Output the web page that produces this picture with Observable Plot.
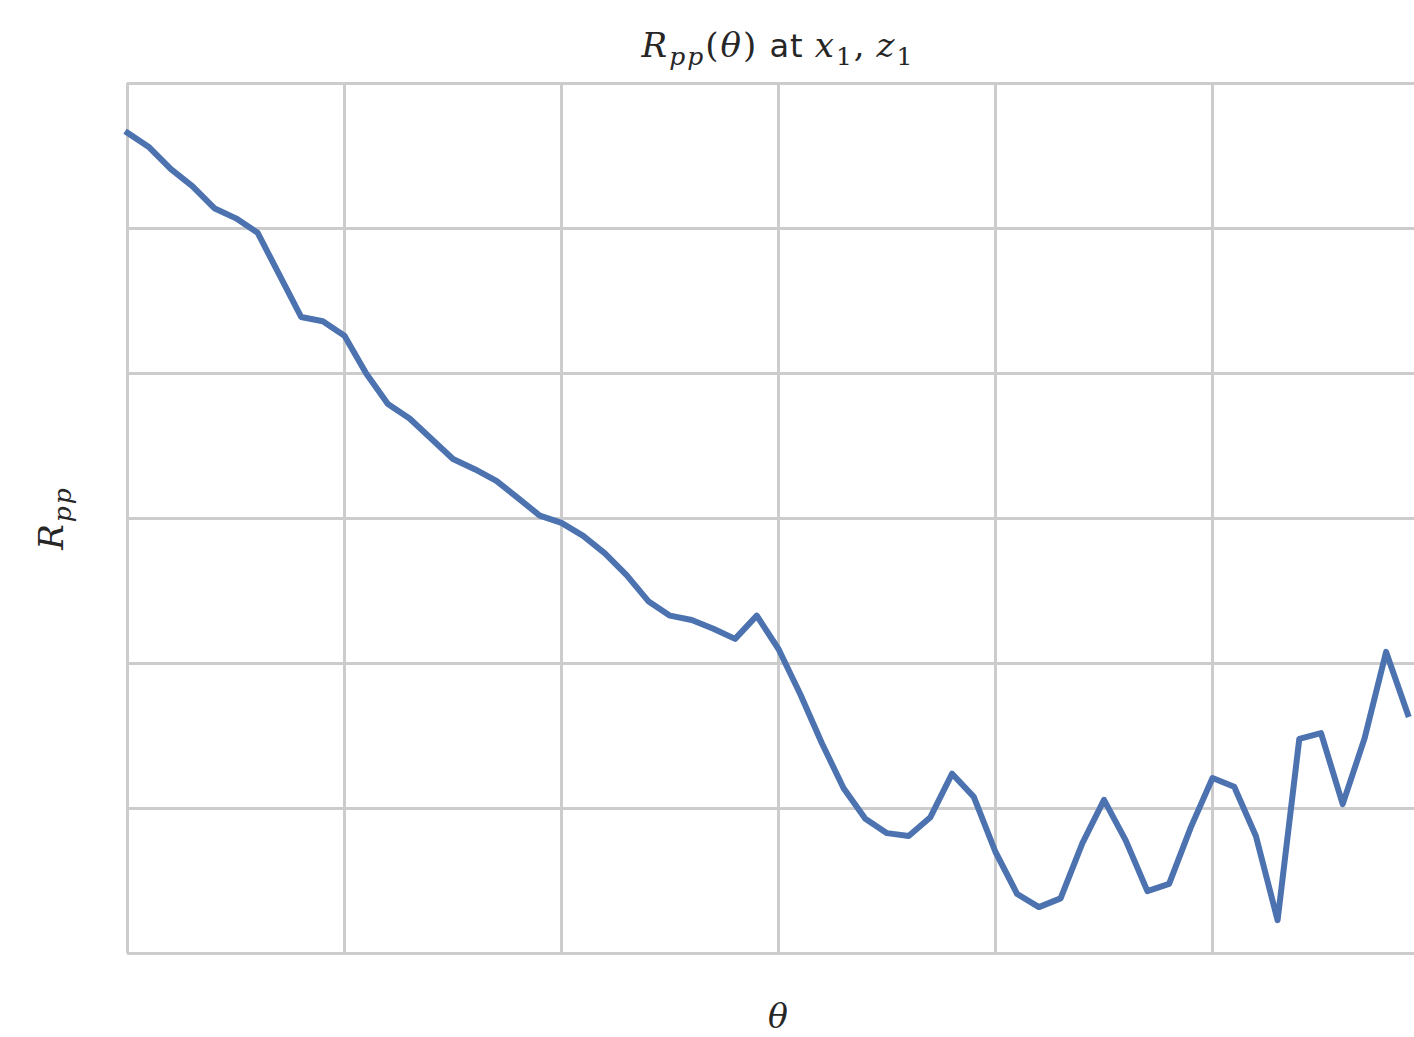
<!DOCTYPE html>
<html>
<head>
<meta charset="utf-8">
<script src="https://cdn.jsdelivr.net/npm/d3@7"></script>
<script src="https://cdn.jsdelivr.net/npm/@observablehq/plot@0.6"></script>
<style>
  html, body { margin: 0; padding: 0; background: #fff; overflow: hidden; width: 1414px; }
  #chart { width: 1414px; overflow: hidden; }
  #chart svg { display: block; max-width: none !important; }
</style>
</head>
<body>
<div id="chart"></div>
<script>
// Incidence angle index (theta samples)
const theta = d3.range(60);

// Reflection coefficient R_pp at (x1, z1), one value per angle sample
const rpp = [
  5.66, 5.56, 5.41, 5.29, 5.14, 5.07, 4.97, 4.68, 4.39, 4.36,
  4.26, 4.00, 3.79, 3.69, 3.55, 3.41, 3.34, 3.26, 3.14, 3.02,
  2.97, 2.88, 2.76, 2.61, 2.43, 2.33, 2.30, 2.24, 2.17, 2.33,
  2.10, 1.79, 1.45, 1.14, 0.93, 0.83, 0.81, 0.94, 1.24, 1.08,
  0.70, 0.41, 0.32, 0.38, 0.76, 1.06, 0.78, 0.43, 0.48, 0.87,
  1.21, 1.15, 0.81, 0.23, 1.48, 1.52, 1.03, 1.48, 2.08, 1.65
];

// Grid positions
const xTicks = [0, 10, 20, 30, 40, 50, 60];
const yTicks = [0, 1, 2, 3, 4, 5, 6];

const data = theta.map((t, i) => ({theta: t, rpp: rpp[i]}));

const W = 1429, H = 1037;
const mL = 127, mT = 83, mB = 84;

const chart = Plot.plot({
  width: W,
  height: H,
  marginLeft: mL,
  marginRight: 0,
  marginTop: mT,
  marginBottom: mB,
  style: {maxWidth: "none", overflow: "visible"},
  x: {domain: [0, 60], axis: null},
  y: {domain: [0, 6], axis: null},
  marks: [
    Plot.ruleX(xTicks, {stroke: "#cccccc", strokeWidth: 3}),
    Plot.ruleY(yTicks, {stroke: "#cccccc", strokeWidth: 3}),
    Plot.line(data, {
      x: "theta", y: "rpp",
      stroke: "#4c72b0", strokeWidth: 6,
      strokeLinejoin: "round", strokeLinecap: "square"
    })
  ]
});

document.getElementById("chart").appendChild(chart);

// Math-style labels
const svg = d3.select(chart);
const serif = "'DejaVu Serif', 'Liberation Serif', serif";
const sans = "'DejaVu Sans', 'Liberation Sans', sans-serif";
const ink = "#262626";
const cx = mL + (W - mL) / 2;

function seg(t, text, opts = {}) {
  const s = t.append("tspan").text(text)
    .style("font-family", opts.sans ? sans : serif)
    .style("font-style", opts.italic ? "italic" : "normal");
  if (opts.size) s.style("font-size", opts.size + "px");
  if (opts.dy) s.attr("dy", opts.dy);
  if (opts.dx) s.attr("dx", opts.dx);
  if (opts.ls != null) s.style("letter-spacing", opts.ls + "px");
  return s;
}

// Title: R_pp(θ) at x_1, z_1
const title = svg.append("text")
  .attr("x", cx).attr("y", 57)
  .attr("text-anchor", "middle")
  .style("font-size", "34px")
  .style("letter-spacing", "2px")
  .attr("fill", ink);
seg(title, "R", {italic: true});
seg(title, "pp", {italic: true, size: 25, dy: 8});
seg(title, "(", {dy: -8});
seg(title, "θ", {italic: true});
seg(title, ")");
seg(title, " at ", {sans: true, size: 32, ls: 1});
seg(title, "x", {italic: true});
seg(title, "1", {size: 25, dy: 8});
seg(title, ",", {dy: -8, ls: 12});
seg(title, "z", {italic: true});
seg(title, "1", {size: 25, dy: 8});

// x axis label: θ
svg.append("text")
  .attr("x", cx).attr("y", 1028)
  .attr("text-anchor", "middle")
  .style("font-size", "33px")
  .style("font-family", serif)
  .style("font-style", "italic")
  .attr("fill", ink)
  .text("θ");

// y axis label: R_pp
const ylab = svg.append("text")
  .attr("transform", `translate(63, ${mT + (H - mT - mB) / 2}) rotate(-90)`)
  .attr("text-anchor", "middle")
  .style("font-size", "34px")
  .style("letter-spacing", "2px")
  .attr("fill", ink);
seg(ylab, "R", {italic: true});
seg(ylab, "pp", {italic: true, size: 25, dy: 8});
</script>
</body>
</html>
